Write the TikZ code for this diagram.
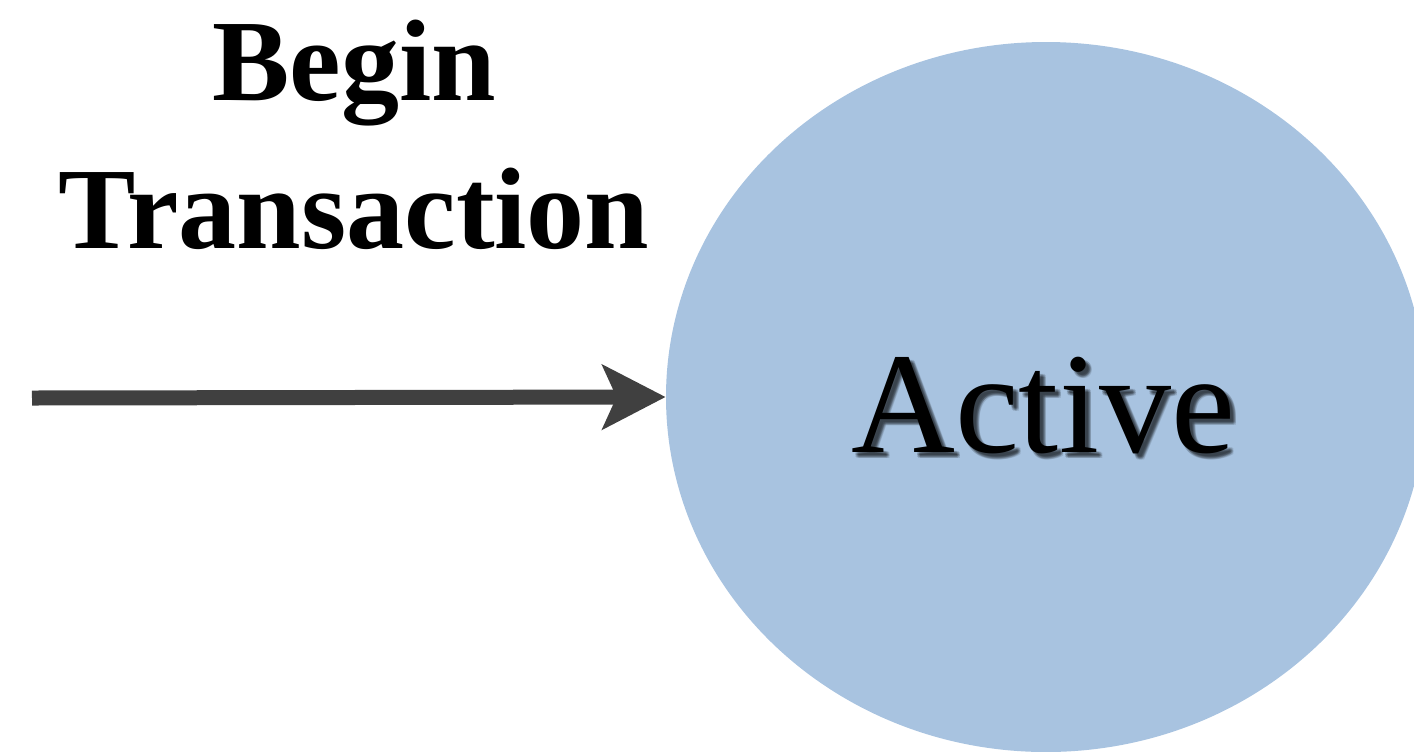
\documentclass[tikz,border=0pt]{standalone}
\usepackage{fontspec}
\setmainfont{Liberation Serif}
\usetikzlibrary{shapes.geometric,arrows.meta}
\definecolor{stateblue}{RGB}{168,195,224}
\definecolor{arrowgray}{RGB}{64,64,64}
\begin{document}
\begin{tikzpicture}[x=0.5pt,y=-0.5pt,
  statenode/.style={ellipse, fill=stateblue, minimum width=380pt, minimum height=355pt, inner sep=0pt},
  labeltext/.style={font=\fontsize{58}{74}\selectfont\bfseries, align=center, inner sep=0pt},
  statetext/.style={font=\fontsize{72}{84}\selectfont, inner sep=0pt, anchor=base},
  shadowtext/.style={statetext, text=black, opacity=0.12},
  flow/.style={line width=7.5pt, draw=arrowgray,
    -{Stealth[length=31.5pt, width=32pt, inset=7pt, fill=arrowgray]}}]
\useasboundingbox (0,0) rectangle (1414,751);

% state bubble, cut off by the page edge
\begin{scope}
  \clip (0,0) rectangle (1414,751);
  \node[statenode] (active) at (1046,397) {};
\end{scope}

% soft drop shadow under the state name
\foreach \dx/\dy in {3/3, 5/5, 4/4, 6/6, 4/6, 6/4, 3/5, 5/3}
  \node[shadowtext] at (1043+\dx,452+\dy) {Active};
\node[statetext] (activelabel) at (1043,452) {Active};

% transition label (base anchor sits on the last line)
\node[labeltext, anchor=base] (beginlabel) at (354,248) {Begin\\Transaction};

% incoming transition
\coordinate (start) at (32,398);
\draw[flow] (start) -- (active.west);
\end{tikzpicture}
\end{document}
